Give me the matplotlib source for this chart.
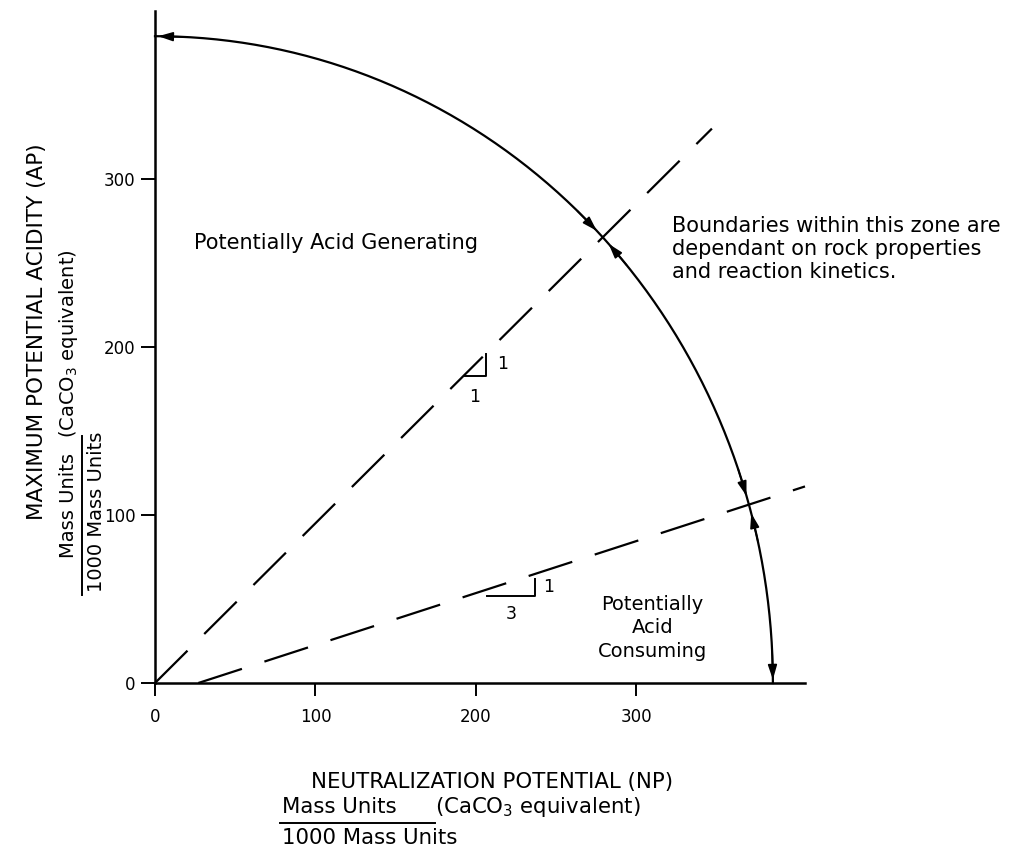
import numpy as np
import matplotlib.pyplot as plt
from matplotlib.lines import Line2D

plt.rcParams['font.family'] = 'DejaVu Sans'
plt.rcParams['lines.scale_dashes'] = False

# tick values
x_ticks = [0, 100, 200, 300]
y_ticks = [0, 100, 200, 300]

# outer boundary (quarter circle)
arc_radius = 385

# dashed boundaries: start / end points
line_1to1_x = [0, 347]
line_1to1_y = [0, 330]
line_1to3_x = [27, 405]
line_1to3_y = [0, 117]

# little slope triangles
tri_1to1_x = [193, 206, 206]
tri_1to1_y = [183, 183, 196]
tri_1to3_x = [207, 237, 237]
tri_1to3_y = [52, 52, 62]

W, H = 1016, 851


def fx(px):
    return px / W


def fy(py):
    return 1 - py / H


def arc_point(deg):
    t = np.radians(deg)
    return arc_radius * np.cos(t), arc_radius * np.sin(t)


def hit_angle(xs, ys):
    # where a straight boundary crosses the arc
    p0 = np.array([xs[0], ys[0]], float)
    d = np.array([xs[1] - xs[0], ys[1] - ys[0]], float)
    a = d @ d
    b = 2 * p0 @ d
    c = p0 @ p0 - arc_radius ** 2
    t = (-b + np.sqrt(b * b - 4 * a * c)) / (2 * a)
    p = p0 + t * d
    return np.degrees(np.arctan2(p[1], p[0]))


fig = plt.figure(figsize=(W / 100, H / 100), dpi=100)
ax = fig.add_axes([fx(155), fy(683), 650 / W, 672 / H])
ax.set_xlim(0, 405)
ax.set_ylim(0, 400)
for s in ['top', 'right']:
    ax.spines[s].set_visible(False)
for s in ['left', 'bottom']:
    ax.spines[s].set_linewidth(1.8)
ax.set_xticks(x_ticks)
ax.set_yticks(y_ticks)
ax.tick_params(axis='x', direction='out', length=9, width=1.4, pad=9, labelsize=12)
ax.tick_params(axis='y', direction='out', length=10, width=1.4, pad=4, labelsize=12)

# quarter circle
theta = np.linspace(0, 90, 300)
arc_x, arc_y = arc_point(theta)
ax.plot(arc_x, arc_y, color='k', lw=1.6, clip_on=False)

# dashed boundaries
dash = (0, (33, 17))
ax.plot(line_1to1_x, line_1to1_y, color='k', lw=1.6, linestyle=dash, clip_on=False)
ax.plot(line_1to3_x, line_1to3_y, color='k', lw=1.6, linestyle=dash, clip_on=False)

# slope triangles
ax.plot(tri_1to1_x, tri_1to1_y, color='k', lw=1.4)
ax.plot(tri_1to3_x, tri_1to3_y, color='k', lw=1.4)
ax.text(213, 190, '1', fontsize=12.5, va='center')
ax.text(199, 170, '1', fontsize=12.5, ha='center', va='center')
ax.text(242, 57, '1', fontsize=12.5, va='center')
ax.text(222, 41, '3', fontsize=12.5, ha='center', va='center')

# arrowheads on the arc
a1 = hit_angle(line_1to1_x, line_1to1_y)
a3 = hit_angle(line_1to3_x, line_1to3_y)
arrows = [(89.7, 87.0), (0.3, 3.0),
          (a1 + 0.8, a1 + 3.3), (a1 - 0.8, a1 - 3.3),
          (a3 + 0.8, a3 + 3.3), (a3 - 0.8, a3 - 3.3)]
for tip, tail in arrows:
    ax.annotate('', xy=arc_point(tip), xytext=arc_point(tail),
                arrowprops=dict(arrowstyle='-|>,head_length=0.8,head_width=0.25',
                                color='k', lw=1.2, shrinkA=0, shrinkB=0,
                                mutation_scale=11))

# zone labels
ax.text(24, 262, 'Potentially Acid Generating', fontsize=15, va='center')
ax.text(310, 33, 'Potentially\nAcid\nConsuming', fontsize=14,
        ha='center', va='center', linespacing=1.3)
ax.text(322, 278, 'Boundaries within this zone are\n'
        'dependant on rock properties\nand reaction kinetics.',
        fontsize=15, va='top', linespacing=1.2)

# x axis label
fig.text(fx(492), fy(782), 'NEUTRALIZATION POTENTIAL (NP)', fontsize=15.3,
         ha='center', va='center')
fig.text(fx(282), fy(807), 'Mass Units', fontsize=15.3, ha='left', va='center')
fig.text(fx(435), fy(807), r'(CaCO$_3$ equivalent)', fontsize=15.3,
         ha='left', va='center')
fig.add_artist(Line2D([fx(280), fx(435)], [fy(823), fy(823)],
                      transform=fig.transFigure, color='k', lw=1.4))
fig.text(fx(282), fy(838), '1000 Mass Units', fontsize=15.3, ha='left', va='center')

# y axis label
fig.text(fx(37), fy(332), 'MAXIMUM POTENTIAL ACIDITY (AP)', fontsize=15.5,
         rotation=90, ha='center', va='center')
fig.text(fx(68), fy(558), 'Mass Units', fontsize=14, rotation=90,
         ha='center', va='bottom')
fig.text(fx(68), fy(438), r'(CaCO$_3$ equivalent)', fontsize=14, rotation=90,
         ha='center', va='bottom')
fig.add_artist(Line2D([fx(82), fx(82)], [fy(595), fy(436)],
                      transform=fig.transFigure, color='k', lw=1.4))
fig.text(fx(97), fy(592), '1000 Mass Units', fontsize=14, rotation=90,
         ha='center', va='bottom')

fig.savefig('out.png', dpi=100)
